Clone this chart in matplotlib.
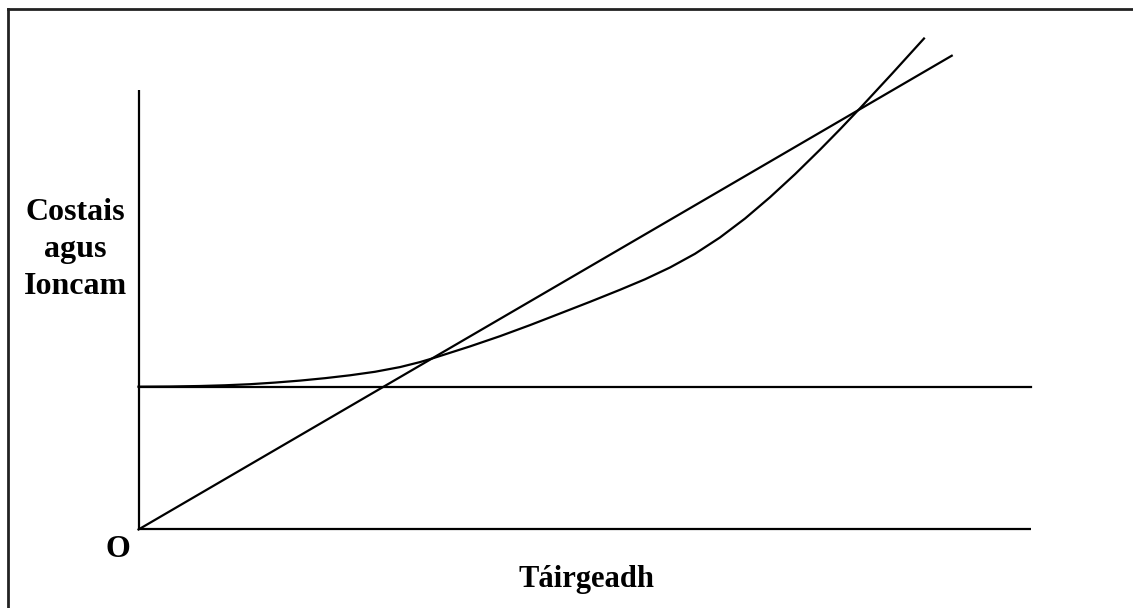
import matplotlib.pyplot as plt
from matplotlib.lines import Line2D

# output on x, cost / revenue on y (arbitrary units, origin at O)
axis_len_x = 10.0
axis_len_y = 9.76
fixed_cost = 3.17

# total revenue: straight line through the origin
revenue_x = [0.0, 9.112]
revenue_y = [0.0, 10.517]

# total cost curve
cost_x = [0.0, 0.353, 0.689, 0.969, 1.249, 1.529, 1.810, 2.090, 2.370, 2.650, 2.930,
          3.154, 3.300, 3.714, 4.050, 4.387, 4.723, 5.059, 5.395, 5.675, 5.955,
          6.235, 6.515, 6.796, 7.076, 7.356, 7.636, 7.860, 8.084, 8.443, 8.801]
cost_y = [3.170, 3.174, 3.185, 3.201, 3.225, 3.261, 3.305, 3.359, 3.423, 3.501, 3.605,
          3.716, 3.802, 4.064, 4.291, 4.537, 4.795, 5.054, 5.321, 5.554, 5.816,
          6.120, 6.482, 6.903, 7.376, 7.887, 8.431, 8.883, 9.350, 10.118, 10.899]

y_label = ['Costais', 'agus', 'Ioncam']
y_label_base = [6.870, 6.049, 5.228]

plt.rcParams['font.family'] = ['Liberation Serif', 'DejaVu Serif']

fig = plt.figure(figsize=(11.33, 6.08), dpi=100)
ax = fig.add_axes([0, 0, 1, 1])
ax.set_xlim(-1.552, 11.143)
ax.set_ylim(-1.743, 11.754)
ax.axis('off')

lw = 1.6
ax.plot([0, 0], [0, axis_len_y], color='black', lw=lw, solid_capstyle='butt')
ax.plot([0, axis_len_x], [0, 0], color='black', lw=lw, solid_capstyle='butt')
ax.plot([0, axis_len_x], [fixed_cost, fixed_cost], color='black', lw=lw)
ax.plot(revenue_x, revenue_y, color='black', lw=lw)
ax.plot(cost_x, cost_y, color='black', lw=lw)

fs = 23
for word, yb in zip(y_label, y_label_base):
    ax.text(-0.711, yb, word, ha='center', va='baseline', fontsize=fs, fontweight='bold')
ax.text(-0.23, -0.61, 'O', ha='center', va='baseline', fontsize=fs, fontweight='bold')
ax.text(5.02, -1.276, 'Táirgeadh', ha='center', va='baseline', fontsize=22, fontweight='bold')

# frame around the picture (left and top edges only are visible)
fig.add_artist(Line2D([7.5 / 1133, 7.5 / 1133], [0, 1 - 8.5 / 608],
                      transform=fig.transFigure, color='#222222', lw=2))
fig.add_artist(Line2D([7.5 / 1133, 1], [1 - 8.5 / 608, 1 - 8.5 / 608],
                      transform=fig.transFigure, color='#222222', lw=2))

fig.savefig('out.png', dpi=100)
